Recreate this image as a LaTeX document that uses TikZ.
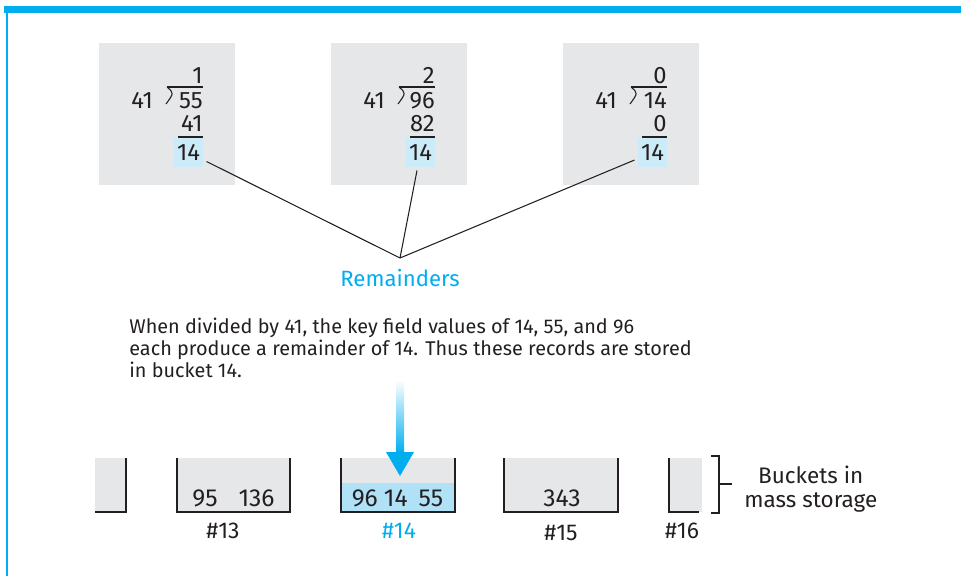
\documentclass[tikz,border=0pt]{standalone}
\usepackage{fontspec}
\setmainfont{Fira Sans}
\usetikzlibrary{positioning,calc}
\definecolor{hashcyan}{HTML}{00AEEF}
\definecolor{boxgrey}{HTML}{E6E7E8}
\definecolor{remfill}{HTML}{CCEBF9}
\definecolor{bktfill}{HTML}{B0E1F7}
\definecolor{ink}{HTML}{231F20}
\tikzset{
  divbox/.style={rectangle,fill=boxgrey,draw=none,minimum width=2.72cm,
    minimum height=2.84cm,inner sep=0pt},
  digit/.style={font=\fontsize{13.5}{16}\selectfont,text=ink,inner sep=0pt},
  remnum/.style={digit,fill=remfill,minimum width=0.58cm,minimum height=0.58cm,
    outer sep=2pt},
  remline/.style={line width=0.6pt,color=ink},
  rule/.style={line width=0.6pt,color=ink},
  bktwall/.style={line width=0.9pt,color=ink},
  bktnum/.style={font=\fontsize{14}{16}\selectfont,text=ink,inner sep=0pt},
  bktlabel/.style={font=\fontsize{13}{16}\selectfont,text=ink,inner sep=0pt},
  note/.style={font=\fontsize{11.3}{12.5}\selectfont,text=ink,inner sep=0pt,align=left},
}

\begin{document}
\begin{tikzpicture}[x=0.02cm,y=-0.02cm]
  \useasboundingbox (0,0) rectangle (961,576);
  % frame
  \fill[hashcyan] (4,6) rectangle (961,13);
  \draw[hashcyan,line width=0.8pt] (7,13) -- (7,576);

  % the three divisions
  \foreach \bx/\q/\dd/\pp/\nm in {99/1/55/41/a, 331/2/96/82/b, 563/0/14/0/c}{
    \node[divbox,anchor=north west] (box\nm) at (\bx,43) {};
    \node[digit,anchor=base east] (quo\nm) at (\bx+104,83) {\q};
    \node[digit,anchor=base east] (dvd\nm) at (\bx+104,108) {\dd};
    \node[digit,anchor=base west] (dvs\nm) at (\bx+32,108) {41};
    \node[digit,anchor=base east] (prd\nm) at (\bx+104,131) {\pp};
    \node[remnum] (rem\nm) at (\bx+89.5,152.5) {14};
    \draw[rule] (\bx+68,87) -- (\bx+104,87);
    \draw[rule] (\bx+68,87) .. controls (\bx+75,93) .. (\bx+67,104);
    \draw[rule] (\bx+79,137) -- (\bx+104,137);
  }

  \coordinate (meet) at (400,258);
  \draw[remline] (rema) -- (meet);
  \draw[remline] (remb) -- (meet);
  \draw[remline] (remc) -- (meet);
  \node[note,font=\fontsize{12.6}{14}\selectfont,text=hashcyan,anchor=base] (remlbl) at (400,286) {Remainders};

  \node[note,anchor=north west] (expl) at (129,318)
    {When divided by 41, the key field values of 14, 55, and 96\\
     each produce a remainder of 14. Thus these records are stored\\
     in bucket 14.};

  % buckets
  \fill[boxgrey] (95,458) rectangle (126,512);
  \draw[bktwall] (126,458) -- (126,512) -- (95,512);
  \fill[boxgrey] (177,458) rectangle (290,512);
  \draw[bktwall] (177,458) -- (177,512) -- (290,512) -- (290,458);
  \fill[boxgrey] (341,458) rectangle (455,483);
  \fill[bktfill] (341,483) rectangle (455,512);
  \draw[bktwall] (341,458) -- (341,512) -- (455,512) -- (455,458);
  \fill[boxgrey] (504,458) rectangle (618,512);
  \draw[bktwall] (504,458) -- (504,512) -- (618,512) -- (618,458);
  \fill[boxgrey] (669,458) rectangle (702,512);
  \draw[bktwall] (669,458) -- (669,512) -- (699,512);

  \node[bktnum,anchor=base] (keys13) at (233.5,506) {95\hspace{0.85em}136};
  \node[bktnum,anchor=base] (keys14) at (397.5,506) {96\hspace{0.25em}14\hspace{0.45em}55};
  \node[bktnum,anchor=base] (keys15) at (562,506) {343};
  \node[bktlabel,anchor=base] (num13) at (223,538) {\#13};
  \node[bktlabel,anchor=base,text=hashcyan] (num14) at (399,538) {\#14};
  \node[bktlabel,anchor=base] (num15) at (561,540) {\#15};
  \node[bktlabel,anchor=base] (num16) at (682,538) {\#16};

  % incoming arrow
  \coordinate (arrtop) at (400,380);
  \coordinate (arrbase) at (400,452);
  \coordinate (arrtip) at (400,476);
  \shade[top color=white,bottom color=hashcyan] ($(arrtop)+(-4,0)$) rectangle ($(arrbase)+(4,1)$);
  \fill[hashcyan] ($(arrbase)+(-14,0)$) -- ($(arrbase)+(14,0)$) -- (arrtip) -- cycle;

  % bracket
  \coordinate (brtop) at (719,456);
  \coordinate (brbot) at (719,513);
  \coordinate (brmid) at (719,484);
  \node[note,font=\fontsize{12.8}{13.6}\selectfont,align=center,anchor=west] (bktcap) at (744,489)
    {Buckets in\\mass storage};
  \draw[rule] ($(brtop)+(-8,0)$) -- (brtop) -- (brbot) -- ($(brbot)+(-8,0)$);
  \draw[rule] (brmid) -- ($(brmid)+(13,0)$);
\end{tikzpicture}
\end{document}
